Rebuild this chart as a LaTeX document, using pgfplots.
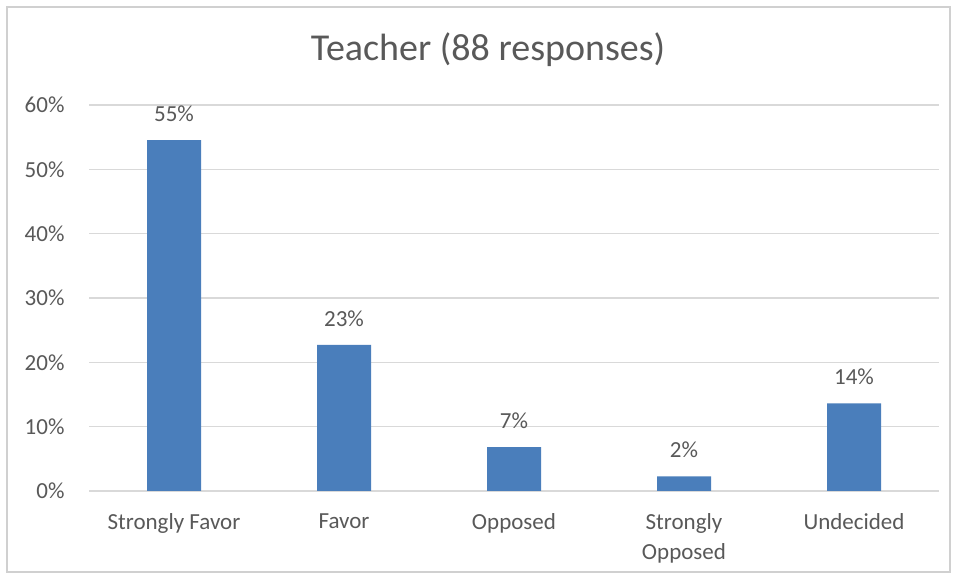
\documentclass[border=0pt]{standalone}
\usepackage{pgfplots}
\pgfplotsset{compat=1.18}
\usepackage{fontspec}
\setmainfont{Carlito}
\definecolor{barblue}{HTML}{4A7EBB}
\definecolor{txtgray}{HTML}{595959}
\definecolor{gridgray}{HTML}{D9D9D9}
\definecolor{framegray}{HTML}{D0D0D0}
\begin{document}
\begin{tikzpicture}[x=1bp,y=1bp]
\fill[white] (0,0) rectangle (956,577);
\draw[framegray, line width=1.2bp] (7,5) rectangle (950,570);
\begin{axis}[
  at={(89bp,86bp)}, anchor=south west,
  scale only axis, width=850bp, height=386bp,
  xmin=-0.5, xmax=4.5, ymin=0, ymax=60,
  ytick={0,10,...,60},
  yticklabel={\pgfmathprintnumber[assume math mode=true]{\tick}\%},
  xtick=data,
  xticklabels={Strongly Favor, Favor, Opposed, {Strongly\\Opposed}, Undecided},
  major tick length=0pt,
  axis line style={draw=none},
  ymajorgrids, grid style={gridgray, line width=1.2bp},
  xticklabel style={align=center, text=txtgray, font=\fontsize{23bp}{30bp}\selectfont, yshift=-19bp},
  yticklabel style={text=txtgray, font=\fontsize{23bp}{26bp}\selectfont, xshift=-21bp},
  title={Teacher (88 responses)},
  title style={text=txtgray, font=\fontsize{38bp}{42bp}\selectfont, anchor=center, at={(axis description cs:0.5,1)}, yshift=49bp, xshift=-26bp},
  ybar, bar width=54bp,
  nodes near coords={\pgfmathprintnumber[fixed,precision=0,assume math mode=true]{\pgfplotspointmeta}\%},
  nodes near coords style={text=txtgray, font=\fontsize{23bp}{26bp}\selectfont, yshift=15bp},
]
\addplot[fill=barblue, draw=none] coordinates {
  (0,54.545) (1,22.727) (2,6.818) (3,2.273) (4,13.636)
};
\end{axis}
\end{tikzpicture}
\end{document}
